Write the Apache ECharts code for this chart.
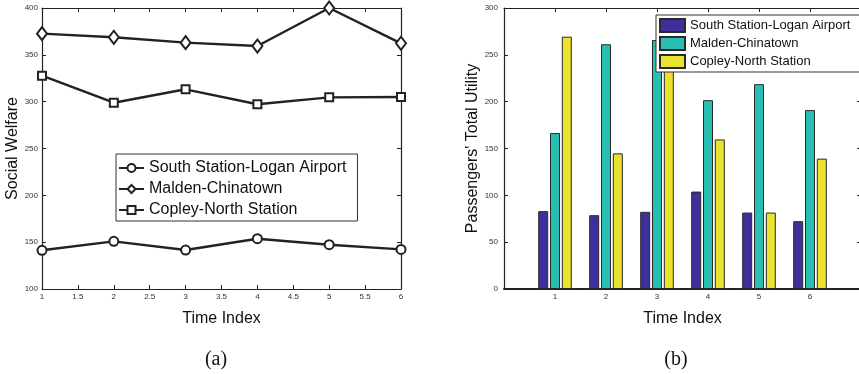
<!DOCTYPE html>
<html>
<head>
<meta charset="utf-8">
<script src="https://cdn.jsdelivr.net/npm/echarts@6/dist/echarts.min.js"></script>
<style>
  html, body { margin: 0; padding: 0; background: #fff; }
  #chart { width: 859px; height: 374px; }
</style>
</head>
<body>
<div id="chart"></div>
<script>
// Route names shared by both panels
const routes = ['South Station-Logan Airport', 'Malden-Chinatown', 'Copley-North Station'];

// Panel (a): social welfare per time index
const timeIndex = [1, 2, 3, 4, 5, 6];
const welfareSouth = [141.3, 150.9, 141.6, 153.7, 147.3, 142.3];
const welfareMalden = [372.6, 368.7, 363.0, 359.4, 400.0, 362.3];
const welfareCopley = [327.8, 298.9, 313.2, 297.2, 304.6, 305.0];

// Panel (b): passengers' total utility per time index
const utilitySouth = [83.1, 78.8, 82.4, 104.0, 81.6, 72.4];
const utilityMalden = [166.5, 261.3, 265.9, 201.6, 218.7, 191.0];
const utilityCopley = [269.4, 144.8, 250.0, 159.7, 81.6, 139.2];

const barColors = ['#3f2f9c', '#28beb2', '#ebe22f'];
const ink = '#222';
const sans = 'Liberation Sans, Arial, sans-serif';

function pairs(xs, ys) { return xs.map((x, i) => [x, ys[i]]); }

function frameAxis(extra) {
  return Object.assign({
    axisLine: { show: true, onZero: false, lineStyle: { color: ink, width: 1.2 } },
    axisTick: { show: true, inside: true, length: 4, lineStyle: { color: ink } },
    splitLine: { show: false },
    axisLabel: { show: false }
  }, extra);
}

const chart = echarts.init(document.getElementById('chart'), null, { renderer: 'canvas' });

const lineStyle = { color: ink, width: 2.4 };

chart.setOption({
  animation: false,
  backgroundColor: '#fff',
  textStyle: { fontFamily: sans },
  title: [
    { text: '(a)', left: 211, top: 345, textAlign: 'center',
      textStyle: { fontFamily: 'Liberation Serif, DejaVu Serif, serif', fontSize: 20, fontWeight: 'normal', color: '#111' } },
    { text: '(b)', left: 671, top: 345, textAlign: 'center',
      textStyle: { fontFamily: 'Liberation Serif, DejaVu Serif, serif', fontSize: 20, fontWeight: 'normal', color: '#111' } }
  ],
  grid: [
    { left: 42, top: 8, width: 359, height: 281, outerBoundsMode: 'none', containLabel: false },
    { left: 504, top: 8, width: 357, height: 281, outerBoundsMode: 'none', containLabel: false }
  ],
  legend: [
    {
      data: routes,
      orient: 'vertical',
      left: 116, top: 154,
      padding: [6, 11, 3, 2],
      itemWidth: 25, itemHeight: 10, itemGap: 5,
      backgroundColor: '#fff',
      borderColor: '#333', borderWidth: 1, borderRadius: 0,
      textStyle: { fontFamily: sans, fontSize: 16, lineHeight: 16, color: '#111' },
      z: 10
    },
    {
      data: routes.map((r, i) => ({ name: r + ' ', itemStyle: { color: barColors[i] } })),
      orient: 'vertical',
      left: 656, top: 15,
      padding: [3, 7, 3, 3],
      itemWidth: 25, itemHeight: 13, itemGap: 3,
      icon: 'rect',
      backgroundColor: '#fff',
      borderColor: '#333', borderWidth: 1, borderRadius: 0,
      textStyle: { fontFamily: sans, fontSize: 13, lineHeight: 13, color: '#111' },
      z: 10
    }
  ],
  xAxis: [
    frameAxis({
      type: 'value', gridIndex: 0, position: 'bottom', min: 1, max: 6, interval: 0.5,
      axisLabel: { show: true, fontSize: 8, color: '#333', margin: 4 },
      name: 'Time Index', nameLocation: 'middle', nameGap: 22,
      nameTextStyle: { fontFamily: sans, fontSize: 16, color: '#111' }
    }),
    frameAxis({ type: 'value', gridIndex: 0, position: 'top', min: 1, max: 6, interval: 0.5 }),
    frameAxis({
      type: 'value', gridIndex: 1, position: 'bottom', min: 0, max: 7, interval: 1,
      axisLine: { show: true, onZero: false, lineStyle: { color: ink, width: 2 } },
      axisLabel: {
        show: true, fontSize: 8, color: '#333', margin: 4,
        formatter: v => (v >= 1 && v <= 6) ? String(v) : ''
      },
      name: 'Time Index', nameLocation: 'middle', nameGap: 22,
      nameTextStyle: { fontFamily: sans, fontSize: 16, color: '#111' }
    }),
    frameAxis({ type: 'value', gridIndex: 1, position: 'top', min: 0, max: 7, interval: 1 })
  ],
  yAxis: [
    frameAxis({
      type: 'value', gridIndex: 0, position: 'left', min: 100, max: 400, interval: 50,
      axisLabel: { show: true, fontSize: 8, color: '#333', margin: 4 },
      name: 'Social Welfare', nameLocation: 'middle', nameGap: 16,
      nameTextStyle: { fontFamily: sans, fontSize: 16, color: '#111' }
    }),
    frameAxis({ type: 'value', gridIndex: 0, position: 'right', min: 100, max: 400, interval: 50 }),
    frameAxis({
      type: 'value', gridIndex: 1, position: 'left', min: 0, max: 300, interval: 50,
      axisLabel: { show: true, fontSize: 8, color: '#333', margin: 6 },
      name: "Passengers' Total Utility", nameLocation: 'middle', nameGap: 15,
      nameTextStyle: { fontFamily: sans, fontSize: 16, color: '#111' }
    }),
    frameAxis({ type: 'value', gridIndex: 1, position: 'right', min: 0, max: 300, interval: 50 })
  ],
  series: [
    {
      name: routes[0], type: 'line', xAxisIndex: 0, yAxisIndex: 0,
      data: pairs(timeIndex, welfareSouth),
      symbol: 'circle', symbolSize: 9,
      lineStyle: lineStyle,
      itemStyle: { color: '#fff', borderColor: ink, borderWidth: 2 }
    },
    {
      name: routes[1], type: 'line', xAxisIndex: 0, yAxisIndex: 0,
      data: pairs(timeIndex, welfareMalden),
      symbol: 'diamond', symbolSize: [10, 13],
      lineStyle: lineStyle,
      itemStyle: { color: '#fff', borderColor: ink, borderWidth: 2 }
    },
    {
      name: routes[2], type: 'line', xAxisIndex: 0, yAxisIndex: 0,
      data: pairs(timeIndex, welfareCopley),
      symbol: 'rect', symbolSize: 8,
      lineStyle: lineStyle,
      itemStyle: { color: '#fff', borderColor: ink, borderWidth: 2 }
    },
    {
      name: routes[0] + ' ', type: 'bar', xAxisIndex: 2, yAxisIndex: 2,
      data: pairs(timeIndex, utilitySouth),
      barWidth: 10, barGap: '18%',
      itemStyle: { color: barColors[0], borderColor: '#2a2a2a', borderWidth: 1 }
    },
    {
      name: routes[1] + ' ', type: 'bar', xAxisIndex: 2, yAxisIndex: 2,
      data: pairs(timeIndex, utilityMalden),
      barWidth: 10, barGap: '18%',
      itemStyle: { color: barColors[1], borderColor: '#2a2a2a', borderWidth: 1 }
    },
    {
      name: routes[2] + ' ', type: 'bar', xAxisIndex: 2, yAxisIndex: 2,
      data: pairs(timeIndex, utilityCopley),
      barWidth: 10, barGap: '18%',
      itemStyle: { color: barColors[2], borderColor: '#2a2a2a', borderWidth: 1 }
    }
  ]
});
</script>
</body>
</html>
